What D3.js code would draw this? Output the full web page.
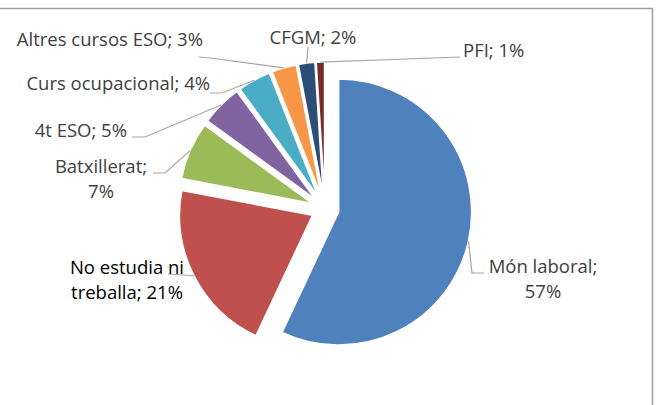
<!DOCTYPE html>
<html>
<head>
<meta charset="utf-8">
<script src="https://cdn.jsdelivr.net/npm/d3@7"></script>
<style>
  html, body { margin: 0; padding: 0; background: #fff; }
  svg { display: block; }
</style>
</head>
<body>
<div id="chart"></div>
<script>
// data
const categories = ["Món laboral", "No estudia ni treballa", "Batxillerat", "4t ESO",
  "Curs ocupacional", "Altres cursos ESO", "CFGM", "PFI"];
const values = [57, 21, 7, 5, 4, 3, 2, 1];

// styles
const colors = ["#4F81BD", "#C0504D", "#9BBB59", "#8064A2", "#4BACC6", "#F79646", "#2C4D75", "#772C2A"];
const textColors = ["#404040", "#000000", "#404040", "#404040", "#404040", "#404040", "#404040", "#404040"];

// label placement (x, first baseline, anchor, words on first line, leader elbow + end)
const labelLayout = [
  { x: 543, y: 273, anchor: "middle", wrap: 2, leader: [[472, 273], [484, 273]] },
  { x: 127, y: 274, anchor: "middle", wrap: 3, leader: [[168, 274]] },
  { x: 101, y: 173, anchor: "middle", wrap: 1, leader: [[165, 173], [153, 173]] },
  { x: 127, y: 137, anchor: "end", wrap: 0, leader: [[145, 137], [132, 137]] },
  { x: 210, y: 90, anchor: "end", wrap: 0, leader: [[222, 93], [210, 93]] },
  { x: 203, y: 46, anchor: "end", wrap: 0, leader: [[210, 58], [199, 57]] },
  { x: 313, y: 44, anchor: "middle", wrap: 0, leader: [[308, 47]] },
  { x: 463, y: 57, anchor: "start", wrap: 0, leader: [[460, 57]] }
];

const width = 657, height = 405;
const cx = 325, cy = 209, radius = 133, explode = 14;

const svg = d3.select("#chart").append("svg")
  .attr("width", width)
  .attr("height", height);

svg.append("rect").attr("width", width).attr("height", height).attr("fill", "#fff");

// chart area border (only top and right edges are visible)
svg.append("rect")
  .attr("x", -5).attr("y", 8.5)
  .attr("width", 657.5).attr("height", 410)
  .attr("fill", "none")
  .attr("stroke", "#a0a0a0")
  .attr("stroke-width", 1.5);

const pie = d3.pie().sort(null).value(d => d);
const arcs = pie(values);
const arc = d3.arc().innerRadius(0).outerRadius(radius);

const g = svg.append("g").attr("transform", `translate(${cx},${cy})`);

function offset(a, dist) {
  const m = (a.startAngle + a.endAngle) / 2;
  return [dist * Math.sin(m), -dist * Math.cos(m)];
}

g.selectAll("path.slice")
  .data(arcs)
  .join("path")
  .attr("class", "slice")
  .attr("d", arc)
  .attr("transform", d => `translate(${offset(d, explode)})`)
  .attr("fill", (d, i) => colors[i])
  .attr("stroke", "#fff")
  .attr("stroke-width", 1.5)
  .attr("stroke-linejoin", "round");

// leader lines from the outer edge of each slice
const line = d3.line();
svg.selectAll("path.leader")
  .data(arcs)
  .join("path")
  .attr("class", "leader")
  .attr("d", (d, i) => {
    const p = offset(d, radius + explode);
    return line([[cx + p[0], cy + p[1]], ...labelLayout[i].leader]);
  })
  .attr("fill", "none")
  .attr("stroke", "#a6a6a6")
  .attr("stroke-width", 1.2);

// data labels
const labels = svg.selectAll("text.label")
  .data(arcs)
  .join("text")
  .attr("class", "label")
  .attr("font-family", "'Open Sans', 'Noto Sans', sans-serif")
  .attr("font-size", 18.5)
  .attr("fill", (d, i) => textColors[i])
  .attr("text-anchor", (d, i) => labelLayout[i].anchor);

labels.each(function (d, i) {
  const lay = labelLayout[i];
  const words = `${categories[i]}; ${values[i]}%`.split(" ");
  const lines = lay.wrap ? [words.slice(0, lay.wrap).join(" "), words.slice(lay.wrap).join(" ")] : [words.join(" ")];
  d3.select(this).selectAll("tspan")
    .data(lines)
    .join("tspan")
    .attr("x", lay.x)
    .attr("y", (t, k) => lay.y + k * 25)
    .text(t => t);
});
</script>
</body>
</html>
